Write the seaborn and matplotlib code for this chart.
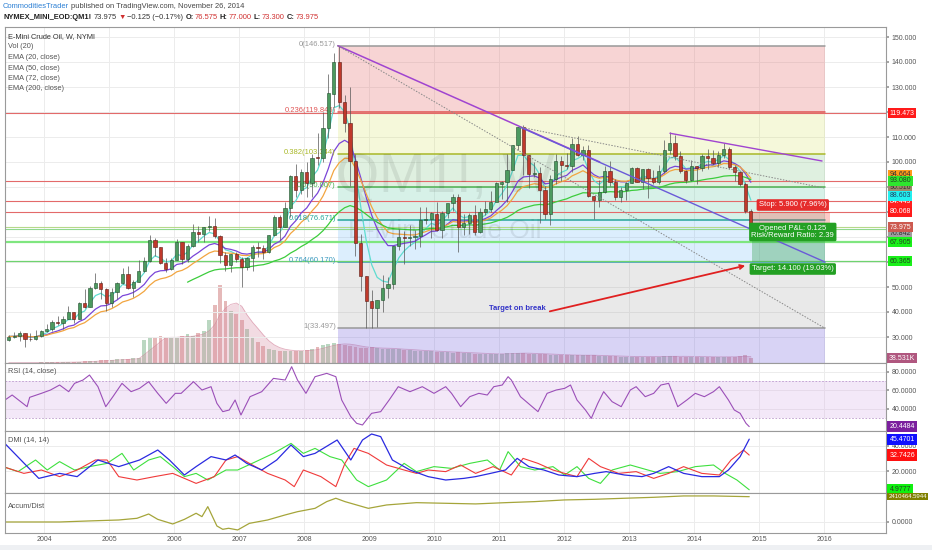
import pandas as pd
import numpy as np
import seaborn as sns
import matplotlib.pyplot as plt
from matplotlib.transforms import blended_transform_factory

# ---------------- data (monthly bars) ----------------
closes = [30.2, 30.5, 31.6, 29.2, 29.1, 30.4, 32.5,
          33.1, 36.2, 35.8, 37.4, 39.9, 37.1, 43.8, 42.1, 49.6, 51.8, 49.1, 43.5,
          48.2, 51.8, 55.4, 49.7, 52.0, 56.5, 60.6, 68.9, 66.2, 59.8, 57.3, 61.0,
          67.9, 61.4, 66.6, 71.9, 71.3, 73.9, 74.4, 70.3, 62.9, 58.7, 63.1, 61.1,
          58.1, 61.8, 65.9, 65.7, 64.0, 70.7, 78.2, 74.0, 81.7, 94.5, 88.7, 96.0,
          91.8, 101.8, 101.6, 113.5, 127.4, 140.0, 124.1, 115.5, 100.6, 67.8, 54.4, 44.6,
          41.7, 44.8, 49.7, 51.1, 66.3, 69.9, 69.5, 70.0, 70.6, 77.0, 77.3, 79.4,
          72.9, 79.7, 83.8, 86.2, 74.0, 75.6, 79.0, 71.9, 80.0, 81.4, 84.1, 91.4,
          92.2, 97.0, 106.7, 113.9, 102.7, 95.4, 95.7, 88.8, 79.2, 93.2, 100.4, 98.8,
          98.5, 107.1, 103.0, 104.9, 86.5, 85.0, 88.1, 96.5, 92.2, 86.2, 88.9, 91.8,
          97.5, 92.1, 97.2, 93.5, 92.0, 96.6, 105.0, 107.7, 102.3, 96.4, 92.7, 98.4,
          97.5, 102.6, 101.6, 99.7, 102.7, 105.4, 98.2, 96.0, 91.2, 80.5, 73.975]
highs = [31.0, 32.2, 32.4, 31.8, 31.5, 33.0, 33.0,
         35.2, 37.0, 38.4, 38.3, 42.3, 40.0, 44.0, 49.4, 50.5, 55.7, 52.4, 49.5,
         49.5, 52.2, 57.6, 58.3, 53.0, 60.9, 62.1, 70.9, 69.8, 66.2, 61.6, 61.8,
         69.2, 68.2, 67.3, 75.2, 74.4, 74.0, 78.4, 77.8, 70.7, 64.2, 63.3, 64.1,
         62.0, 62.2, 66.7, 68.1, 66.7, 70.9, 78.8, 78.7, 83.9, 94.7, 99.3, 97.1,
         100.1, 103.1, 111.8, 119.9, 135.1, 143.7, 146.5, 127.0, 130.0, 103.3, 71.4, 54.6,
         49.0, 45.0, 54.7, 54.1, 66.4, 73.4, 72.3, 75.0, 72.8, 82.0, 82.0, 80.0,
         84.0, 80.5, 83.2, 87.1, 87.2, 79.2, 79.6, 83.0, 81.6, 84.4, 88.6, 92.1,
         92.6, 103.4, 107.0, 113.9, 114.8, 103.0, 99.9, 98.0, 90.5, 94.7, 103.4, 102.4,
         103.7, 109.8, 110.5, 106.4, 106.9, 86.6, 92.9, 98.3, 100.4, 93.1, 90.2, 91.9,
         98.2, 98.2, 97.4, 97.8, 97.0, 99.0, 108.9, 112.2, 110.7, 104.3, 97.0, 100.8,
         98.5, 103.4, 105.2, 104.9, 104.6, 107.7, 106.0, 98.7, 96.2, 91.9, 81.1]
lows = [28.5, 29.5, 28.5, 26.0, 28.5, 28.8, 29.9,
        32.2, 32.5, 35.0, 33.3, 37.3, 35.5, 37.3, 41.6, 42.0, 49.2, 45.3, 40.3,
        42.1, 45.4, 51.2, 49.2, 46.2, 52.0, 56.0, 60.2, 62.6, 59.2, 55.9, 56.9,
        61.0, 59.3, 59.9, 66.0, 68.1, 68.2, 72.6, 69.8, 59.5, 56.6, 55.9, 60.0,
        49.9, 57.0, 56.3, 61.9, 61.4, 63.6, 70.5, 69.0, 73.9, 78.1, 86.0, 87.1,
        86.1, 86.1, 98.7, 100.1, 109.5, 122.2, 121.8, 112.2, 90.5, 62.6, 48.3, 33.5,
        33.6, 34.0, 40.0, 45.6, 49.3, 64.9, 59.1, 66.3, 65.1, 66.1, 75.2, 69.5,
        72.4, 69.5, 77.6, 80.5, 64.2, 70.8, 71.2, 70.8, 71.6, 79.0, 80.0, 84.3,
        85.1, 84.0, 96.8, 105.0, 95.0, 89.6, 94.0, 75.7, 77.1, 75.0, 91.3, 92.5,
        97.2, 96.0, 102.3, 100.7, 86.2, 77.3, 82.1, 87.6, 90.3, 85.0, 84.1, 84.7,
        91.6, 92.0, 89.3, 85.6, 91.1, 91.3, 95.8, 103.2, 101.0, 95.8, 91.8, 92.4,
        91.2, 96.6, 97.4, 98.9, 98.0, 101.5, 97.2, 92.5, 90.4, 79.8, 73.3]
first_open = 29.0
# volume in K contracts
volume = [2, 2, 3, 3, 3, 3, 4,
          5, 5, 6, 6, 7, 8, 10, 12, 15, 18, 20, 22,
          25, 28, 30, 32, 35, 40, 180, 200, 190, 210, 200, 190,
          200, 210, 220, 210, 230, 250, 330, 450, 600, 480, 400, 380,
          330, 260, 200, 160, 130, 110, 100, 95, 95, 95, 90, 95,
          100, 110, 120, 140, 150, 155, 150, 140, 130, 120, 115, 115,
          120, 115, 110, 110, 108, 105, 100, 100, 95, 95, 90, 90,
          88, 85, 82, 80, 85, 78, 75, 72, 72, 70, 70, 68,
          70, 75, 80, 78, 75, 70, 68, 72, 70, 65, 62, 60,
          60, 62, 60, 58, 62, 58, 55, 55, 52, 52, 50, 50,
          50, 50, 48, 50, 48, 50, 52, 55, 52, 50, 48, 48,
          48, 48, 47, 46, 46, 48, 48, 50, 52, 58, 38.531]

rsi_t = [2003.40, 2003.51, 2003.74, 2003.78, 2003.96, 2004.10, 2004.24, 2004.38, 2004.47, 2004.60,
         2004.70, 2004.83, 2004.95, 2005.06, 2005.20, 2005.34, 2005.47, 2005.61, 2005.75, 2005.88,
         2006.02, 2006.11, 2006.30, 2006.43, 2006.57, 2006.66, 2006.75, 2006.85, 2006.94, 2007.03,
         2007.17, 2007.35, 2007.53, 2007.71, 2007.81, 2007.90, 2008.03, 2008.17, 2008.35, 2008.49,
         2008.58, 2008.72, 2008.81, 2008.90, 2009.04, 2009.18, 2009.31, 2009.45, 2009.63, 2009.82,
         2010.00, 2010.18, 2010.27, 2010.41, 2010.55, 2010.69, 2010.82, 2010.92, 2011.05, 2011.14,
         2011.19, 2011.33, 2011.51, 2011.60, 2011.74, 2011.88, 2012.01, 2012.10, 2012.20, 2012.33,
         2012.42, 2012.52, 2012.61, 2012.74, 2012.88, 2013.02, 2013.11, 2013.25, 2013.38, 2013.49,
         2013.61, 2013.75, 2013.89, 2014.02, 2014.16, 2014.30, 2014.39, 2014.53, 2014.62, 2014.71,
         2014.80, 2014.85]
rsi_v = [49.2, 54.6, 42.0, 52.1, 56.4, 60.0, 65.4, 58.2, 67.2, 70.8,
         76.2, 63.6, 42.0, 52.8, 67.2, 58.2, 61.8, 69.0, 56.4, 45.6,
         56.4, 56.4, 69.0, 60.0, 63.6, 45.6, 36.6, 38.4, 49.2, 33.0,
         52.8, 58.2, 72.6, 70.8, 85.2, 70.8, 56.4, 74.4, 78.0, 74.4,
         49.2, 31.2, 24.0, 22.2, 34.8, 36.6, 49.2, 63.6, 58.2, 63.6,
         56.4, 63.6, 56.4, 42.0, 52.8, 56.4, 54.6, 63.6, 65.4, 74.4,
         70.8, 52.8, 42.0, 36.6, 56.4, 60.0, 61.8, 65.4, 49.2, 38.4,
         29.4, 45.6, 58.2, 47.4, 42.0, 60.0, 63.6, 52.8, 56.4, 65.4,
         67.2, 42.0, 49.2, 56.4, 52.8, 58.2, 63.6, 49.2, 38.4, 34.8,
         24.0, 20.4484]

adx_t = [2003.37, 2003.92, 2004.24, 2004.51, 2004.83, 2005.15, 2005.47, 2005.75, 2005.93, 2006.16,
         2006.34, 2006.57, 2006.80, 2006.94, 2007.12, 2007.35, 2007.58, 2007.80, 2007.99, 2008.17,
         2008.51, 2008.72, 2008.90, 2009.04, 2009.18, 2009.36, 2009.63, 2009.91, 2010.18, 2010.46,
         2010.64, 2010.87, 2011.10, 2011.28, 2011.46, 2011.69, 2011.92, 2012.20, 2012.47, 2012.65,
         2012.93, 2013.20, 2013.38, 2013.61, 2013.84, 2014.12, 2014.39, 2014.53, 2014.71, 2014.85]
adx_v = [43.5, 14.1, 18.1, 15.5, 28.8, 23.5, 28.8, 36.8, 28.8, 16.8,
         23.5, 31.5, 28.8, 32.8, 26.1, 20.8, 28.8, 40.8, 31.5, 34.1,
         44.8, 28.8, 44.8, 49.6, 47.5, 28.8, 20.8, 15.5, 12.8, 14.1,
         15.5, 18.1, 20.8, 30.1, 23.5, 20.8, 16.8, 15.5, 18.1, 19.5,
         16.8, 15.5, 18.1, 23.5, 18.1, 15.5, 15.5, 20.8, 31.5, 45.4701]
mdi_t = [2003.37, 2003.69, 2003.96, 2004.24, 2004.51, 2004.79, 2004.97, 2005.15, 2005.43, 2005.70,
         2005.98, 2006.34, 2006.62, 2006.80, 2006.98, 2007.16, 2007.44, 2007.71, 2007.85, 2007.99,
         2008.26, 2008.49, 2008.63, 2008.77, 2008.99, 2009.27, 2009.54, 2009.73, 2009.91, 2010.18,
         2010.41, 2010.64, 2010.91, 2011.19, 2011.37, 2011.60, 2011.83, 2012.01, 2012.20, 2012.38,
         2012.56, 2012.84, 2013.11, 2013.38, 2013.61, 2013.84, 2014.12, 2014.39, 2014.57, 2014.76,
         2014.85]
mdi_v = [23.5, 18.1, 20.8, 15.5, 20.8, 28.8, 28.8, 15.5, 12.8, 15.5,
         18.1, 10.1, 15.5, 28.8, 31.5, 26.1, 18.1, 12.8, 7.5, 20.8,
         15.5, 7.5, 26.1, 38.1, 34.1, 24.8, 20.8, 18.1, 20.8, 19.5,
         24.8, 18.1, 23.5, 16.8, 30.1, 26.1, 20.8, 18.1, 15.5, 30.1,
         23.5, 18.1, 19.5, 14.1, 18.1, 23.5, 18.1, 16.8, 28.8, 36.8,
         32.7426]
pdi_t = [2003.37, 2003.60, 2003.87, 2004.05, 2004.24, 2004.47, 2004.70, 2004.97, 2005.20, 2005.38,
         2005.61, 2005.79, 2005.98, 2006.16, 2006.34, 2006.52, 2006.80, 2006.98, 2007.26, 2007.53,
         2007.80, 2007.99, 2008.17, 2008.40, 2008.58, 2008.81, 2008.99, 2009.27, 2009.54, 2009.73,
         2010.00, 2010.27, 2010.55, 2010.82, 2011.01, 2011.14, 2011.33, 2011.55, 2011.83, 2012.01,
         2012.20, 2012.38, 2012.56, 2012.74, 2013.02, 2013.29, 2013.48, 2013.75, 2014.02, 2014.30,
         2014.48, 2014.66, 2014.85]
pdi_v = [23.5, 19.5, 28.8, 20.8, 27.5, 20.8, 23.5, 26.1, 34.1, 20.8,
         28.8, 31.5, 23.5, 15.5, 18.1, 12.8, 20.8, 20.8, 27.5, 34.1,
         42.1, 34.1, 38.1, 31.5, 28.8, 12.8, 7.5, 12.8, 26.1, 19.5,
         23.5, 22.1, 26.1, 28.8, 20.8, 35.5, 23.5, 20.8, 23.5, 16.8,
         23.5, 14.1, 10.1, 20.8, 24.8, 20.8, 18.1, 19.5, 23.5, 24.8,
         18.1, 12.8, 4.9777]

# accumulation / distribution, millions
ad_t = [2003.37, 2004.24, 2004.70, 2005.15, 2005.43, 2005.61, 2005.75, 2005.98, 2006.16, 2006.34,
        2006.43, 2006.52, 2006.66, 2006.75, 2006.84, 2006.98, 2007.16, 2007.44, 2007.71, 2007.90,
        2008.17, 2008.35, 2008.49, 2008.63, 2008.81, 2008.99, 2009.27, 2009.73, 2010.18, 2010.64,
        2011.10, 2011.55, 2012.01, 2012.47, 2012.93, 2013.38, 2013.84, 2014.30, 2014.85]
ad_v = [0.0, 0.0, 0.10, 0.19, 0.35, 0.76, 0.25, -0.19, 0.25, 0.83,
        0.51, 1.46, -0.38, -0.70, -0.60, -0.76, -0.13, 0.19, 0.67, 0.98,
        1.30, 1.94, 2.26, 1.94, 1.62, 1.30, 1.62, 1.84, 1.78, 1.72,
        1.84, 1.94, 2.10, 2.16, 2.26, 2.35, 2.48, 2.48, 2.41]

fib_ratios = [0, 0.236, 0.382, 0.5, 0.618, 0.764, 1]
fib_prices = [146.517, 119.845, 103.344, 90.007, 76.671, 60.170, 33.497]
years = list(range(2004, 2017))
price_ticks = list(range(30, 151, 10))
hidden_ticks = [60, 70, 80, 90, 120]   # covered by value tags on the original

# value tags on the price scale: (label, shown at level, background, text colour)
tag_labels = ['94.664', '90.516', '84.449', '93.080', '88.603', '119.473',
              '80.068', '70.842', '73.975', '67.905', '60.365']
tag_levels = [95.0, 89.9, 84.1, 92.5, 86.5, 119.473, 80.068, 71.3, 73.975, 67.905, 60.365]
tag_colors = ['#ff9a1a', '#9c8a6a', '#ff2020', '#2ee62e', '#22f0f0', '#ff1a1a',
              '#ff1a1a', '#9e9e9e', '#cd5a50', '#19f019', '#19f019']
tag_text = ['#333333', '#333333', 'white', '#224422', '#224466', 'white',
            'white', '#333333', 'white', '#224422', '#224422']

# ---------------- frame ----------------
months = pd.date_range('2003-06-01', periods=len(closes), freq='MS')
df = pd.DataFrame({'t': months.year + (months.month - 0.5) / 12,
                   'close': closes, 'high': highs, 'low': lows, 'vol': volume})
df['open'] = df['close'].shift(1).fillna(first_open)
df['up'] = df['close'] >= df['open']
df['ema20'] = df['close'].ewm(span=4.6, adjust=False).mean()
df['ema50'] = df['close'].ewm(span=11.5, adjust=False).mean()
df['ema72'] = df['close'].ewm(span=16.6, adjust=False).mean()
df['ema200'] = df['close'].ewm(span=46, min_periods=34).mean()
df['volma'] = df['vol'].rolling(5, min_periods=1).mean()

sns.set_theme(style='white')
plt.rcParams['font.family'] = ['Liberation Sans Narrow', 'Liberation Sans', 'DejaVu Sans']
plt.rcParams['axes.unicode_minus'] = False

W, H = 932, 550
fig = plt.figure(figsize=(W / 100, H / 100), dpi=100)
fig.patch.set_facecolor('white')

def box(top, bottom):
    return [5 / W, 1 - bottom / H, 881 / W, (bottom - top) / H]

XL = (2003.4, 2016.954)
ax_v = fig.add_axes(box(27, 363))
ax = fig.add_axes(box(27, 363))
ax_rsi = fig.add_axes(box(363, 431))
ax_dmi = fig.add_axes(box(431, 493))
ax_ad = fig.add_axes(box(493, 533))

grid_c = '#ececec'
for a in (ax_v, ax, ax_rsi, ax_dmi, ax_ad):
    a.set_xlim(*XL)
    a.set_xticks(years)
    a.tick_params(axis='both', labelsize=5, labelcolor='#555555', length=2.5,
                  color='#999999', pad=1.5, direction='out')
    for s in a.spines.values():
        s.set_color('#9a9a9a')
        s.set_linewidth(0.8)
    a.yaxis.tick_right()
ax_v.axis('off')
ax.patch.set_alpha(0)
for a in (ax, ax_rsi, ax_dmi):
    a.set_xticklabels([])
    a.tick_params(axis='x', length=0)
for a in (ax, ax_rsi, ax_dmi, ax_ad):
    a.grid(True, color=grid_c, lw=0.7)
    a.set_axisbelow(True)

# ---------------- volume ----------------
ax_v.set_ylim(0, 2590)
ax_v.bar(df['t'], df['vol'], width=0.06,
         color=np.where(df['up'], '#a9cdb2', '#dfa8a8'), alpha=0.8, lw=0)
ax_v.fill_between(df['t'], 0, df['volma'], color='#d78aa0', alpha=0.3, lw=0)
sns.lineplot(x=df['t'], y=df['volma'], ax=ax_v, color='#d07c96', lw=0.6, alpha=0.6)
ax_v.text(1.003, 38.531, '38.531K', transform=blended_transform_factory(ax_v.transAxes, ax_v.transData),
          fontsize=5, color='white', va='center', ha='left', clip_on=False,
          bbox=dict(boxstyle='square,pad=0.25', fc='#b0577f', ec='none'))

# ---------------- main price panel ----------------
ax.set_ylim(19.6, 154)
ax.set_yticks(price_ticks)
ax.set_yticklabels(['' if p in hidden_ticks else f'{p:.3f}' for p in price_ticks])

fx0, fx1 = 2008.52, 2016.015
fib_cols = ['#999999', '#e05555', '#a9b828', '#4caf50', '#26a69a', '#3c9bbf', '#999999']
fill_cols = [('#e57373', 0.30), ('#d4e157', 0.22), ('#81c784', 0.25), ('#4dc39a', 0.22),
             ('#64b5f6', 0.22), ('#9e9e9e', 0.22)]
for i in range(6):
    c, al = fill_cols[i]
    ax.fill_between([fx0, fx1], fib_prices[i + 1], fib_prices[i], color=c, alpha=al, lw=0, zorder=0.6)
ax.fill_between([fx0, fx1], 19.6, fib_prices[-1], color='#7e6fe0', alpha=0.3, lw=0, zorder=0.6)
for r, p, c in zip(fib_ratios, fib_prices, fib_cols):
    ax.plot([fx0, fx1], [p, p], color=c, lw=1.1, zorder=1)
    ax.text(fx0 - 0.03, p + 0.6, f'{r:g}({p:.3f})', color=c, fontsize=5.5, ha='right', va='center')

# watermark
ax.text(2010.17, 93.6, 'QM1!, W', fontsize=40, color='#000000', alpha=0.08, ha='center', va='center')
ax.text(2010.17, 72.5, 'E-Mini Crude Oil', fontsize=19, color='#000000', alpha=0.08, ha='center', va='center')

# full-width horizontal levels
for p in [119.473, 92.4, 84.449, 80.068]:
    ax.axhline(p, color='#e36a6a', lw=0.8, zorder=1.2)
for p, c, lw in [(74.0, '#b5d98a', 0.8), (73.3, '#8fd88f', 0.8), (67.905, '#7fe67f', 1.6), (60.365, '#6fd36f', 0.9)]:
    ax.axhline(p, color=c, lw=lw, zorder=1.2)

# position tool (short)
entry, stop, target = 74.168, 80.068, 60.068
ax.fill_between([2014.892, 2016.09], entry, stop, color='#f44336', alpha=0.28, lw=0, zorder=1.3)
ax.fill_between([2014.892, 2016.015], target, entry, color='#2e9e4a', alpha=0.35, lw=0, zorder=1.3)

# EMAs
ema_cols = {'ema20': '#5fdcd0', 'ema50': '#7a45d8', 'ema72': '#f2a540', 'ema200': '#3ccc3c'}
for k, c in ema_cols.items():
    sns.lineplot(x=df['t'], y=df[k], ax=ax, color=c, lw=0.9, zorder=2)

# candles
ax.vlines(df['t'], df['low'], df['high'], color='#555555', lw=0.5, zorder=3)
body_lo = np.minimum(df['open'], df['close'])
body_h = np.maximum(np.abs(df['close'] - df['open']), 0.25)
ax.bar(df['t'], body_h, bottom=body_lo, width=0.05,
       color=np.where(df['up'], '#4c9a5f', '#c0392b'),
       edgecolor=np.where(df['up'], '#1f4d2c', '#5b1a13'), lw=0.4, zorder=4)

# trend lines
ax.plot([2008.52, 2012.55], [146.517, 100.0], color='#a044d0', lw=1.1, zorder=5)
ax.plot([2011.32, 2016.015], [114.0, 60.0], color='#6a5ad8', lw=1.0, zorder=5)
ax.plot([2008.52, 2016.015], [146.517, 33.497], color='#888888', lw=0.7, ls=(0, (1.5, 1.5)), zorder=5)
ax.plot([2011.32, 2016.0], [114.0, 89.6], color='#888888', lw=0.7, ls=(0, (1.5, 1.5)), zorder=5)
ax.plot([2013.63, 2015.97], [111.5, 100.4], color='#a044d0', lw=1.0, zorder=5)

# annotations
ax.text(2011.29, 41.2, 'Target on break', color='#3434c8', fontsize=5.5, fontweight='bold',
        ha='center', va='center', zorder=6)
ax.annotate('', xy=(2014.83, 58.8), xytext=(2011.74, 40.0), zorder=6,
            arrowprops=dict(arrowstyle='->', color='#e02020', lw=1.3, mutation_scale=7))
lab = dict(fontsize=5.5, color='white', ha='center', va='center', zorder=7)
ax.text(2015.52, 82.8, 'Stop: 5.900 (7.96%)', **lab,
        bbox=dict(boxstyle='round,pad=0.3,rounding_size=0.2', fc='#e52c2c', ec='none'))
ax.text(2015.52, 72.0, 'Opened P&L: 0.125\nRisk/Reward Ratio: 2.39', linespacing=1.0, **lab,
        bbox=dict(boxstyle='round,pad=0.3,rounding_size=0.2', fc='#23a023', ec='none'))
ax.text(2015.52, 57.2, 'Target: 14.100 (19.03%)', **lab,
        bbox=dict(boxstyle='round,pad=0.3,rounding_size=0.2', fc='#23a023', ec='none'))

# right-hand value tags
tr = blended_transform_factory(ax.transAxes, ax.transData)
for s, y, fc, tc in zip(tag_labels, tag_levels, tag_colors, tag_text):
    ax.text(1.004, y, s, transform=tr, fontsize=5, color=tc, ha='left', va='center', clip_on=False,
            bbox=dict(boxstyle='square,pad=0.2', fc=fc, ec='none'), zorder=8)

# legend text
legend_rows = ['E-Mini Crude Oil, W, NYMI', 'Vol (20)', 'EMA (20, close)', 'EMA (50, close)',
               'EMA (72, close)', 'EMA (200, close)']
for i, s in enumerate(legend_rows):
    fig.text(8 / W, 1 - (36.5 + i * 10.5) / H, s, fontsize=5.3,
             color='#333333' if i == 0 else '#555555', va='center', ha='left')

# ---------------- RSI ----------------
ax_rsi.set_ylim(15.7, 89.2)
ax_rsi.set_yticks([40, 60, 80])
ax_rsi.set_yticklabels(['40.0000', '60.0000', '80.0000'])
ax_rsi.axhspan(30, 70, color='#d9b3e8', alpha=0.3, lw=0)
for lv in (30, 70):
    ax_rsi.axhline(lv, color='#bb99cc', lw=0.6, ls=(0, (2, 2)))
sns.lineplot(x=rsi_t, y=rsi_v, ax=ax_rsi, color='#9b4fb8', lw=0.8, sort=False, estimator=None)
ax_rsi.text(0.003, 0.85, 'RSI (14, close)', transform=ax_rsi.transAxes, fontsize=5.3, color='#555555')
ax_rsi.text(1.004, 20.4484, '20.4484', transform=blended_transform_factory(ax_rsi.transAxes, ax_rsi.transData),
            fontsize=5, color='white', va='center', ha='left', clip_on=False,
            bbox=dict(boxstyle='square,pad=0.3', fc='#7b1f9e', ec='none'))

# ---------------- DMI ----------------
ax_dmi.set_ylim(2.4, 52)
ax_dmi.set_yticks([20, 40])
ax_dmi.set_yticklabels(['20.0000', '40.0000'])
sns.lineplot(x=pdi_t, y=pdi_v, ax=ax_dmi, color='#3ee03e', lw=0.8, sort=False, estimator=None)
sns.lineplot(x=mdi_t, y=mdi_v, ax=ax_dmi, color='#f03a3a', lw=0.8, sort=False, estimator=None)
sns.lineplot(x=adx_t, y=adx_v, ax=ax_dmi, color='#2a2ae0', lw=0.9, sort=False, estimator=None)
ax_dmi.text(0.003, 0.83, 'DMI (14, 14)', transform=ax_dmi.transAxes, fontsize=5.3, color='#555555')
trd = blended_transform_factory(ax_dmi.transAxes, ax_dmi.transData)
for y, s, fc, tc in [(45.4701, '45.4701', '#1010ff', 'white'), (32.7426, '32.7426', '#ff1010', 'white'),
                     (4.9777, '4.9777', '#10f010', '#224422')]:
    ax_dmi.text(1.004, y, s, transform=trd, fontsize=5, color=tc, va='center', ha='left', clip_on=False,
                bbox=dict(boxstyle='square,pad=0.3', fc=fc, ec='none'))

# ---------------- Accum/Dist ----------------
ax_ad.set_ylim(-1.05, 2.76)
ax_ad.set_yticks([0])
ax_ad.set_yticklabels(['0.0000'])
sns.lineplot(x=ad_t, y=ad_v, ax=ax_ad, color='#a5a53a', lw=0.9, sort=False, estimator=None)
ax_ad.text(0.003, 0.62, 'Accum/Dist', transform=ax_ad.transAxes, fontsize=5.3, color='#555555')
ax_ad.text(1.003, 2.41, '2410464.5944', transform=blended_transform_factory(ax_ad.transAxes, ax_ad.transData),
           fontsize=4.3, color='white', va='center', ha='left', clip_on=False,
           bbox=dict(boxstyle='square,pad=0.2', fc='#808000', ec='none'))
ax_ad.set_xticklabels([str(y) for y in years])
ax_ad.tick_params(axis='x', length=0, pad=2.5)
for a in (ax, ax_rsi, ax_dmi, ax_ad):
    a.set_xlabel('')
    a.set_ylabel('')

# ---------------- header ----------------
renderer = fig.canvas.get_renderer()

def put_row(x_px, y_px, pieces, size):
    x = x_px
    for txt, color, weight, gap in pieces:
        t = fig.text(x / W, 1 - y_px / H, txt, color=color, fontsize=size, fontweight=weight,
                     ha='left', va='center')
        x += t.get_window_extent(renderer=renderer).width + gap

put_row(3, 6.5, [('CommoditiesTrader', '#2a7fd4', 'normal', 2),
                 ('published on TradingView.com, November 26, 2014', '#444444', 'normal', 0)], 5.4)
red = '#d03030'
put_row(3, 17.5, [('NYMEX_MINI_EOD:QM1!', '#222222', 'bold', 2.5), ('73.975', '#333333', 'normal', 1.5),
                  ('\u25bc', red, 'normal', 1.5), ('\u22120.125 (\u22120.17%)', '#333333', 'normal', 2.5),
                  ('O:', '#222222', 'bold', 0.5), ('76.575', red, 'normal', 2.5),
                  ('H:', '#222222', 'bold', 0.5), ('77.000', red, 'normal', 2.5),
                  ('L:', '#222222', 'bold', 0.5), ('73.300', red, 'normal', 2.5),
                  ('C:', '#222222', 'bold', 0.5), ('73.975', red, 'normal', 0)], 5.4)

# bottom strip
fig.patches.append(plt.Rectangle((0, 0), 1, 5 / H, transform=fig.transFigure, fc='#eef0f3', ec='none'))

fig.savefig('out.png', dpi=100)
plt.close(fig)
